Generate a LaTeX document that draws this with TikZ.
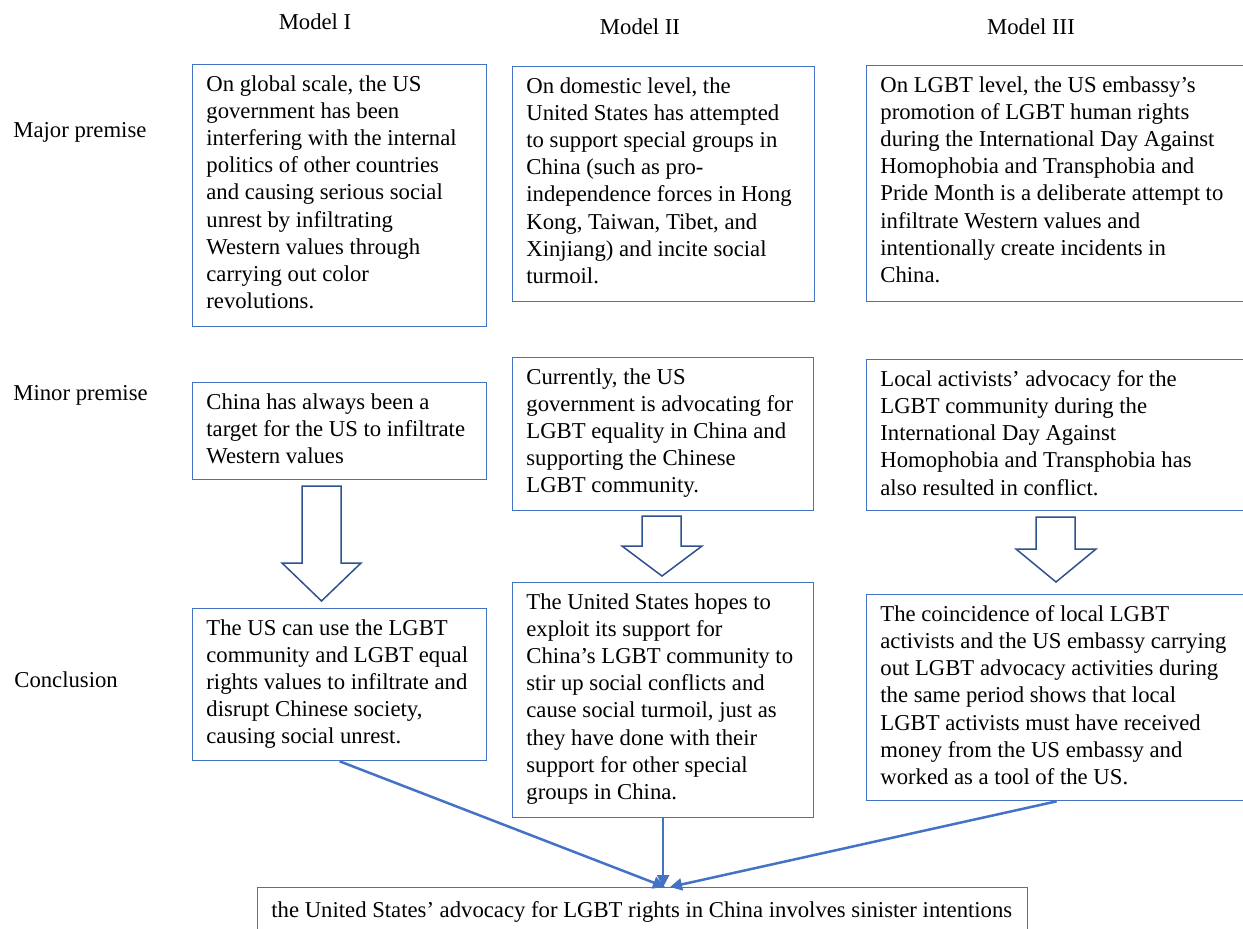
\documentclass[tikz,border=0pt]{standalone}
\usepackage{fontspec}
\setmainfont{Liberation Serif}
\usetikzlibrary{arrows.meta}
\definecolor{boxblue}{HTML}{4472C4}
\definecolor{arrblue}{HTML}{2F528F}
\begin{document}
\begin{tikzpicture}[x=0.5pt,y=-0.5pt,
  frame/.style={draw=boxblue, line width=0.65pt, inner sep=0pt, anchor=north west},
  txt/.style={anchor=north west, inner sep=0pt, align=left,
    font=\fontsize{11.35pt}{13.6pt}\selectfont, execute at begin node=\strut},
  lbl/.style={inner sep=0pt, font=\fontsize{11.35pt}{13.6pt}\selectfont},
  conn/.style={draw=boxblue, line width=1.25pt, -{Triangle[length=6pt,width=6pt]}},
  blockarrow/.style={draw=arrblue, line width=0.75pt, fill=white, line join=miter}]
\useasboundingbox (0,0) rectangle (1243,928);

% column and row labels
\node[lbl, anchor=base] (m1) at (315,29.5) {Model I};
\node[lbl, anchor=base] (m2) at (640,34.5) {Model II};
\node[lbl, anchor=base] (m3) at (1031,34.5) {Model III};
\node[lbl, anchor=base west] (r1) at (13,137) {Major premise};
\node[lbl, anchor=base west] (r2) at (13,400) {Minor premise};
\node[lbl, anchor=base west] (r3) at (14,687) {Conclusion};

% frames
\node[frame, minimum width=147pt, minimum height=131pt] (a1) at (192,64) {};
\node[frame, minimum width=151pt, minimum height=117.5pt] (a2) at (512,66) {};
\node[frame, minimum width=190pt, minimum height=118pt] (a3) at (866,65) {};
\node[frame, minimum width=147pt, minimum height=48.5pt] (b1) at (192,382) {};
\node[frame, minimum width=150.5pt, minimum height=76.5pt] (b2) at (512,357) {};
\node[frame, minimum width=190pt, minimum height=75.5pt] (b3) at (866,359) {};
\node[frame, minimum width=147pt, minimum height=76pt] (c1) at (192,608) {};
\node[frame, minimum width=150.5pt, minimum height=117.5pt] (c2) at (512,582) {};
\node[frame, minimum width=190pt, minimum height=103pt] (c3) at (866,594) {};
\node[frame, minimum width=385pt, minimum height=22.5pt] (f) at (257,887) {};

% texts
\node[txt] (a1t) at (206,75) {On global scale, the US\\government has been\\interfering with the internal\\politics of other countries\\and causing serious social\\unrest by infiltrating\\Western values through\\carrying out color\\revolutions.};
\node[txt] (a2t) at (526,77) {On domestic level, the\\United States has attempted\\to support special groups in\\China (such as pro-\\independence forces in Hong\\Kong, Taiwan, Tibet, and\\Xinjiang) and incite social\\turmoil.};
\node[txt] (a3t) at (880,76) {On LGBT level, the US embassy’s\\promotion of LGBT human rights\\during the International Day Against\\Homophobia and Transphobia and\\Pride Month is a deliberate attempt to\\infiltrate Western values and\\intentionally create incidents in\\China.};
\node[txt] (b1t) at (206,393) {China has always been a\\target for the US to infiltrate\\Western values};
\node[txt] (b2t) at (526,368) {Currently, the US\\government is advocating for\\LGBT equality in China and\\supporting the Chinese\\LGBT community.};
\node[txt] (b3t) at (880,370) {Local activists’ advocacy for the\\LGBT community during the\\International Day Against\\Homophobia and Transphobia has\\also resulted in conflict.};
\node[txt] (c1t) at (206,619) {The US can use the LGBT\\community and LGBT equal\\rights values to infiltrate and\\disrupt Chinese society,\\causing social unrest.};
\node[txt] (c2t) at (526,593) {The United States hopes to\\exploit its support for\\China’s LGBT community to\\stir up social conflicts and\\cause social turmoil, just as\\they have done with their\\support for other special\\groups in China.};
\node[txt] (c3t) at (880,605) {The coincidence of local LGBT\\activists and the US embassy carrying\\out LGBT advocacy activities during\\the same period shows that local\\LGBT activists must have received\\money from the US embassy and\\worked as a tool of the US.};
\node[txt] (ft) at (271,898) {the United States’ advocacy for LGBT rights in China involves sinister intentions};

% block arrows
\draw[blockarrow] (302,486) -- (341,486) -- (341,563) -- (361,563) -- (321.5,601) -- (282,563) -- (302,563) -- cycle;
\draw[blockarrow] (642,516) -- (681,516) -- (681,546) -- (702,546) -- (662,576) -- (622,546) -- (642,546) -- cycle;
\draw[blockarrow] (1036,517) -- (1075,517) -- (1075,549) -- (1096,549) -- (1056,582) -- (1016,549) -- (1036,549) -- cycle;

% connectors
\coordinate (t1) at (665,887);
\coordinate (t3) at (670,887);
\draw[conn] (c1.south) -- (t1);
\draw[conn] (c2.south) -- (c2.south |- f.north);
\draw[conn] (c3.south) -- (t3);
\end{tikzpicture}
\end{document}
